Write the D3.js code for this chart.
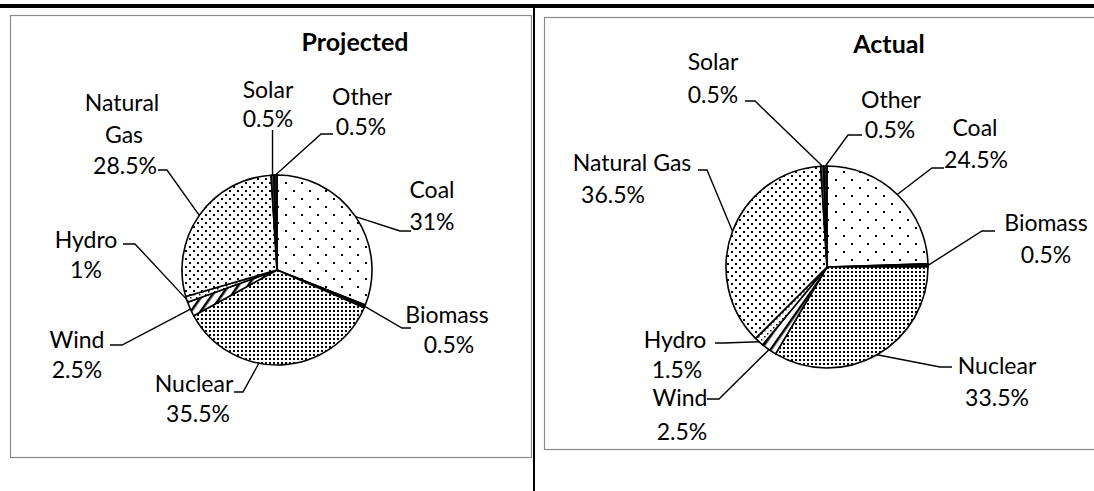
<!DOCTYPE html>
<html><head><meta charset="utf-8">
<script src="https://cdn.jsdelivr.net/npm/d3@7"></script>
<style>
body{margin:0;background:#fff}
svg{display:block}
text{font-family:Lato,"Open Sans",sans-serif;fill:#000}
</style>
</head><body>
<svg id="c" width="1094" height="491"></svg>
<script>
// ---------- DATA ----------
const categories = ["Coal","Biomass","Nuclear","Wind","Hydro","Natural Gas","Solar","Other"];
const projectedValues = [31, 0.5, 35.5, 2.5, 1, 28.5, 0.5, 0.5];
const actualValues    = [24.5, 0.5, 33.5, 2.5, 1.5, 36.5, 0.5, 0.5];
const projectedLabels = ["31%","0.5%","35.5%","2.5%","1%","28.5%","0.5%","0.5%"];
const actualLabels    = ["24.5%","0.5%","33.5%","2.5%","1.5%","36.5%","0.5%","0.5%"];
const chartTitles = ["Projected","Actual"];

// ---------- LAYOUT ----------
const svg = d3.select("#c");
const defs = svg.append("defs");
function dotPattern(id, size, dots, dot) {
  const p = defs.append("pattern").attr("id", id).attr("patternUnits","userSpaceOnUse")
    .attr("width", size).attr("height", size);
  p.append("rect").attr("width", size).attr("height", size).attr("fill", "#fff");
  dots.forEach(([x,y]) => p.append("rect").attr("x",x).attr("y",y).attr("width",dot).attr("height",dot).attr("fill","#000"));
}
dotPattern("pCoal", 16, [[0,0],[8,8]], 2);
dotPattern("pGas", 8, [[0,0],[4,4]], 2);
dotPattern("pNuc", 4, [[0,0]], 2);
dotPattern("pHydro", 6, [[0,0],[3,3]], 1.5);
{
  const p = defs.append("pattern").attr("id","pWind").attr("patternUnits","userSpaceOnUse")
    .attr("width",8).attr("height",8).attr("patternTransform","rotate(35)");
  p.append("rect").attr("width",8).attr("height",8).attr("fill","#fff");
  p.append("rect").attr("x",0).attr("y",0).attr("width",2.5).attr("height",8).attr("fill","#000");
}

const fills = {
  "Coal":"url(#pCoal)", "Biomass":"#000", "Nuclear":"url(#pNuc)", "Wind":"url(#pWind)",
  "Hydro":"url(#pHydro)", "Natural Gas":"url(#pGas)", "Solar":"#444", "Other":"#222"
};

// frame
svg.append("rect").attr("x",0).attr("y",4).attr("width",1094).attr("height",4).attr("fill","#000");
svg.append("rect").attr("x",533).attr("y",8).attr("width",2).attr("height",483).attr("fill","#000");
svg.append("rect").attr("x",10.5).attr("y",15.5).attr("width",521).attr("height",442)
  .attr("fill","none").attr("stroke","#8a8a8a").attr("stroke-width",1.2);
svg.append("rect").attr("x",544.5).attr("y",17.5).attr("width",620).attr("height",432)
  .attr("fill","none").attr("stroke","#8a8a8a").attr("stroke-width",1.2);

const layouts = [
  { cx:277, cy:270, r:95, title:[355,51],
    labels:{
      "Coal":        {lines:[[432,190],[432,222]], attach:[411,231], elbow:[400,231]},
      "Biomass":     {lines:[[447,315],[449,345]], attach:[411,328], elbow:[402,328]},
      "Nuclear":     {lines:[[194,384],[198,414]], attach:[234,392], elbow:[243,392], angle:191},
      "Wind":        {lines:[[77,340],[77,370]],   attach:[110,345], elbow:[122,345]},
      "Hydro":       {lines:[[86,240],[86,270]],   attach:[123,244], elbow:[135,244]},
      "Natural Gas": {lines:[[122,103],[124,135],[125,166]], split:true, attach:[158,170], elbow:[167,170]},
      "Solar":       {lines:[[268,90],[268,119]],  attach:null, vertical:130},
      "Other":       {lines:[[362,97],[361,127]],  attach:[333,134], elbow:[321,134]}
    }},
  { cx:827, cy:267, r:101, title:[889,53],
    labels:{
      "Coal":        {lines:[[975,128],[976,160]], attach:[944,168], elbow:[932,168]},
      "Biomass":     {lines:[[1046,223],[1046,255]], attach:[995,231], elbow:[982,231]},
      "Nuclear":     {lines:[[997,366],[997,398]], attach:[952,367], elbow:[940,367]},
      "Wind":        {lines:[[680,398],[682,432]], attach:[707,399], elbow:[719,399]},
      "Hydro":       {lines:[[675,340],[677,370]], attach:[715,343], elbow:[724,343]},
      "Natural Gas": {lines:[[632,163],[613,195]], attach:[698,170], elbow:[707,170]},
      "Solar":       {lines:[[713,62],[713,95]],   attach:[745,101], elbow:[755,101]},
      "Other":       {lines:[[891,100],[890,130]], attach:[862,135], elbow:[848,135]}
    }}
];

const series = [projectedValues, actualValues];
const pctLabels = [projectedLabels, actualLabels];
const pie = d3.pie().sort(null).value(d => d.v).startAngle(0).endAngle(2*Math.PI);

series.forEach((vals, ci) => {
  const L = layouts[ci];
  const data = categories.map((c,i) => ({c, v: vals[i], lab: pctLabels[ci][i]}));
  const arcs = pie(data);
  const arc = d3.arc().innerRadius(0).outerRadius(L.r);
  const g = svg.append("g").attr("transform", `translate(${L.cx},${L.cy})`);
  g.selectAll("path").data(arcs).join("path")
    .attr("d", arc).attr("fill", d => fills[d.data.c])
    .attr("stroke", "#000").attr("stroke-width", 1.6).attr("stroke-linejoin","round");

  // title
  svg.append("text").attr("x", L.title[0]).attr("y", L.title[1]).attr("text-anchor","middle")
    .attr("font-size", 25).attr("font-weight", "bold").text(chartTitles[ci]);

  arcs.forEach(a => {
    const spec = L.labels[a.data.c];
    const ang = spec.angle != null ? spec.angle*Math.PI/180 : (a.startAngle + a.endAngle)/2;
    const rx = L.cx + L.r*Math.sin(ang), ry = L.cy - L.r*Math.cos(ang);
    let pts;
    if (spec.vertical != null) pts = [[rx, spec.vertical],[rx, ry]];
    else pts = [spec.attach, spec.elbow, [rx, ry]];
    svg.append("path").attr("d", d3.line()(pts)).attr("fill","none")
      .attr("stroke","#000").attr("stroke-width",1.4);
    let texts;
    if (spec.split) {
      const parts = a.data.c.split(" ");
      texts = [...parts, a.data.lab];
    } else texts = [a.data.c, a.data.lab];
    texts.forEach((t, k) => {
      const [x,y] = spec.lines[k];
      svg.append("text").attr("x", x).attr("y", y + 8).attr("text-anchor","middle")
        .attr("font-size", 23).text(t);
    });
  });
});
</script>
</body></html>
